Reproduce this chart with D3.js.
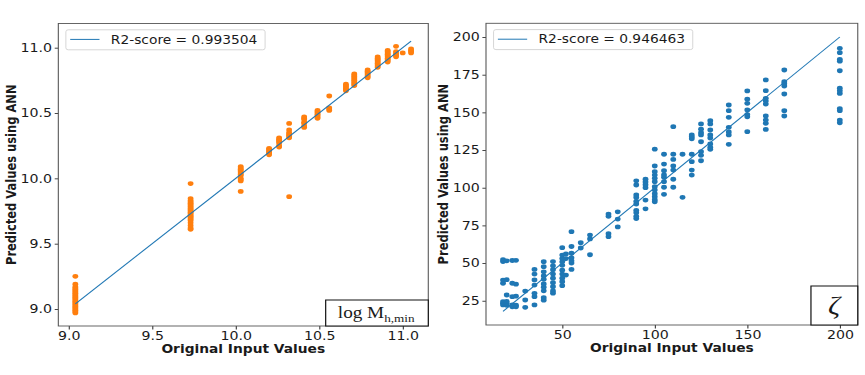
<!DOCTYPE html>
<html>
<head>
<meta charset="utf-8">
<script src="https://cdn.jsdelivr.net/npm/d3@7"></script>
<style>
  body { margin: 0; background: #fff; }
  svg text { font-family: "DejaVu Sans", sans-serif; fill: #1a1a1a; }
</style>
</head>
<body>
<svg id="chart" width="865" height="375"></svg>
<script>
// left panel: log M_h,min  (original value -> predicted values)
var mhX = [9.04, 9.73, 10.03, 10.2, 10.26, 10.32, 10.41, 10.49, 10.56, 10.66, 10.71, 10.79, 10.85, 10.91, 10.96, 11.0, 11.05];
var mhY = [
  [8.97, 8.98, 8.99, 9.0, 9.01, 9.02, 9.03, 9.04, 9.05, 9.06, 9.07, 9.08, 9.09, 9.1, 9.11, 9.12, 9.13, 9.14, 9.15, 9.16, 9.17, 9.19, 9.25],
  [9.61, 9.62, 9.64, 9.66, 9.68, 9.69, 9.7, 9.71, 9.72, 9.73, 9.74, 9.75, 9.76, 9.77, 9.78, 9.79, 9.8, 9.81, 9.82, 9.83, 9.845, 9.96],
  [9.9, 9.98, 9.99, 10.0, 10.02, 10.03, 10.04, 10.05, 10.06, 10.07, 10.08, 10.09],
  [10.18, 10.19, 10.2, 10.21, 10.22, 10.23],
  [10.24, 10.25, 10.27, 10.28, 10.29, 10.3, 10.31],
  [9.86, 10.31, 10.32, 10.33, 10.34, 10.35, 10.37, 10.42],
  [10.39, 10.4, 10.42, 10.43, 10.45, 10.46, 10.47],
  [10.46, 10.47, 10.48, 10.49, 10.5, 10.51, 10.52],
  [10.52, 10.53, 10.54, 10.63],
  [10.67, 10.68, 10.69, 10.7, 10.71, 10.72],
  [10.71, 10.72, 10.73, 10.74, 10.75, 10.76, 10.77, 10.78, 10.79, 10.8],
  [10.77, 10.78, 10.79, 10.8, 10.81, 10.82, 10.83],
  [10.85, 10.86, 10.87, 10.88, 10.89, 10.9, 10.91, 10.92, 10.93],
  [10.89, 10.9, 10.91, 10.92, 10.93, 10.94, 10.95, 10.96, 10.97, 10.98],
  [10.93, 10.94, 10.95, 10.96, 10.97, 11.01],
  [10.96],
  [10.96, 10.97, 10.98, 10.99]
];
var mhScore = "0.993504";
var mhTicks = [9.0, 9.5, 10.0, 10.5, 11.0];

// right panel: zeta
var zetaX = [18, 20, 23, 25, 30, 35, 40, 45, 50, 52, 55, 60, 65, 75, 80, 90, 95, 100, 105, 110, 115, 120, 125, 130, 140, 150, 160, 170, 200];
var zetaY = [
  [22.2, 23.3, 24.4, 36.6, 38.7, 51, 52.2],
  [22, 23.3, 24.5, 28.8, 39, 51.5],
  [21, 22.2, 27.7, 36.6, 51.7],
  [21, 22, 28, 36, 51.8],
  [20.6, 25.5, 31.4],
  [22.2, 27.7, 29.9, 35.4, 38.8, 42.7, 45.8],
  [25.4, 27, 31.6, 34, 36.1, 39.2, 41.4, 44.2, 47.6, 50.9],
  [30, 31.5, 34.3, 37, 40, 42.7, 45.6, 48.2, 51],
  [35, 37.6, 40, 42.7, 45.3, 48.5, 50.8, 53, 55.3, 60.2],
  [42, 53, 56],
  [45.8, 50, 51.5, 53.5, 56.5, 61, 70.8],
  [60, 63.5],
  [55.5, 66, 68.6],
  [67.5, 69.5, 81, 82.5],
  [74, 79.2, 84],
  [79.5, 81, 83.4, 85, 89.2, 91, 93.5, 95.2, 101.8, 104.6],
  [86, 91.8, 100, 102, 103.8, 105.6],
  [90.7, 92, 94, 96, 98.5, 100.7, 104, 106.2, 108.4, 110.6, 114.4, 125.6],
  [95.6, 100.3, 104, 106.9, 108.5, 111.3, 115.7, 122.2],
  [100.3, 105.6, 111.7, 114.4, 118.8, 122.2, 140.5],
  [93.6, 122.2],
  [108.4, 111.7, 117.3, 122.2, 132.5, 133.8, 135],
  [117.9, 121.5, 123.9, 130.5, 135, 136.5, 138.8, 142.3],
  [125.5, 126.8, 129, 133, 135, 138.3, 142.3, 144.5],
  [128.8, 135, 137, 140.1, 146.7, 151.1, 154.9],
  [137.2, 147.1, 148.5, 151.6, 156, 158.7, 164.2],
  [138.7, 142.7, 144.9, 147.6, 155.5, 157.5, 159.3, 164.4, 171.5],
  [147.6, 151.1, 162.2, 167.5, 169, 170.3, 178.1],
  [143.1, 144.9, 151.1, 152.5, 162.6, 164.3, 166, 177.6, 184, 185.2, 189.6, 192.5]
];
var zetaScore = "0.946463";
var zetaXTicks = [50, 100, 150, 200];
var zetaYTicks = [25, 50, 75, 100, 125, 150, 175, 200];

// the source figure is stretched sideways, so draw in narrow units and scale x
var SX = 1.2;

var svg = d3.select("#chart");
svg.append("rect").attr("width", 865).attr("height", 375).attr("fill", "#fff");
var root = svg.append("g").attr("transform", "scale(" + SX + ",1)");

function flatten(xs, ys) {
  var pts = [];
  for (var i = 0; i < xs.length; i++) {
    ys[i].forEach(function(v) { pts.push({x: xs[i], y: v}); });
  }
  return pts;
}

function drawPanel(cfg) {
  var g = root.append("g");
  var x = d3.scaleLinear().domain(cfg.xDomain).range([cfg.left, cfg.right]);
  var y = d3.scaleLinear().domain(cfg.yDomain).range([cfg.bottom, cfg.top]);

  var xAxis = g.append("g")
      .attr("transform", "translate(0," + cfg.bottom + ")")
      .call(d3.axisBottom(x).tickValues(cfg.xTicks).tickFormat(cfg.xFmt).tickSize(3.5).tickPadding(2.2));
  var yAxis = g.append("g")
      .attr("transform", "translate(" + cfg.left + ",0)")
      .call(d3.axisLeft(y).tickValues(cfg.yTicks).tickFormat(cfg.yFmt).tickSize(3).tickPadding(2.2));
  [xAxis, yAxis].forEach(function(a) {
    a.select(".domain").remove();
    a.selectAll(".tick line").attr("stroke", "#333").attr("stroke-width", 0.9);
    a.selectAll(".tick text")
      .style("font-family", "'DejaVu Sans', sans-serif")
      .style("font-size", "11.8px")
      .attr("fill", "#1a1a1a");
  });

  var pts = flatten(cfg.xs, cfg.ys);
  g.selectAll(".pt")
    .data(pts)
    .enter()
    .append("circle")
      .classed("pt", true)
      .attr("cx", d => x(d.x))
      .attr("cy", d => y(d.y))
      .attr("r", 2.4)
      .attr("fill", cfg.color);

  // y = x reference line
  var lo = d3.min(cfg.xs), hi = d3.max(cfg.xs);
  g.append("line")
    .attr("x1", x(lo)).attr("y1", y(lo))
    .attr("x2", x(hi)).attr("y2", y(hi))
    .attr("stroke", "#1f77b4")
    .attr("stroke-width", 1);

  // frame
  g.append("rect")
    .attr("x", cfg.left).attr("y", cfg.top)
    .attr("width", cfg.right - cfg.left).attr("height", cfg.bottom - cfg.top)
    .attr("fill", "none")
    .attr("stroke", "#555")
    .attr("stroke-width", 0.9);

  // legend
  var lx = cfg.left + 6.3, ly = cfg.top + 6.3;
  g.append("rect")
    .attr("x", lx).attr("y", ly)
    .attr("width", 166).attr("height", 20)
    .attr("rx", 2)
    .attr("fill", "#fff")
    .attr("fill-opacity", 0.85)
    .attr("stroke", "#d0d0d0")
    .attr("stroke-width", 0.8);
  g.append("line")
    .attr("x1", lx + 3.6).attr("x2", lx + 28)
    .attr("y1", ly + 9.6).attr("y2", ly + 9.6)
    .attr("stroke", "#1f77b4")
    .attr("stroke-width", 1);
  g.append("text")
    .attr("x", lx + 37.5)
    .attr("y", ly + 13.8)
    .style("font-size", "11.5px")
    .text("R2-score = " + cfg.score);

  // axis titles
  g.append("text")
    .attr("x", (cfg.left + cfg.right) / 2)
    .attr("y", cfg.xLabelY)
    .style("font-size", "11.5px")
    .style("font-weight", "bold")
    .style("text-anchor", "middle")
    .text("Original Input Values");
  g.append("text")
    .attr("transform", "translate(" + cfg.yLabelX + "," + ((cfg.top + cfg.bottom) / 2) + ") rotate(-90)")
    .style("font-size", "11.5px")
    .style("font-weight", "bold")
    .style("text-anchor", "middle")
    .text("Predicted Values using ANN");

  // parameter name box in the lower right corner
  g.append("rect")
    .attr("x", cfg.right - cfg.boxW).attr("y", cfg.bottom - cfg.boxH)
    .attr("width", cfg.boxW).attr("height", cfg.boxH)
    .attr("fill", "#fff")
    .attr("stroke", "#111")
    .attr("stroke-width", 1);
  return g;
}

var left = drawPanel({
  left: 48.6, right: 356.9, top: 23.5, bottom: 326,
  xDomain: [8.938, 11.153], yDomain: [8.870, 11.185],
  xTicks: mhTicks, yTicks: mhTicks,
  xFmt: d3.format(".1f"), yFmt: d3.format(".1f"),
  xs: mhX, ys: mhY, color: "#ff7f0e", score: mhScore,
  xLabelY: 353.5, yLabelX: 13.1,
  boxW: 85.5, boxH: 26
});
var lt = left.append("text")
    .attr("x", 313.5)
    .attr("y", 318.5)
    .style("font-family", "'Liberation Serif', 'DejaVu Serif', serif")
    .style("font-size", "16px")
    .style("text-anchor", "middle");
lt.append("tspan").text("log M");
lt.append("tspan").attr("dy", 3.5).style("font-size", "11px").text("h,min");

var right = drawPanel({
  left: 405, right: 714.8, top: 23.3, bottom: 325,
  xDomain: [8.8, 209.7], yDomain: [8.9, 209.1],
  xTicks: zetaXTicks, yTicks: zetaYTicks,
  xFmt: d3.format("d"), yFmt: d3.format("d"),
  xs: zetaX, ys: zetaY, color: "#1f77b4", score: zetaScore,
  xLabelY: 352, yLabelX: 373.1,
  boxW: 39, boxH: 39
});
right.append("text")
    .attr("x", 695)
    .attr("y", 314)
    .style("font-family", "'Liberation Serif', 'DejaVu Serif', serif")
    .style("font-style", "italic")
    .style("font-size", "25px")
    .style("text-anchor", "middle")
    .text("ζ");
</script>
</body>
</html>
